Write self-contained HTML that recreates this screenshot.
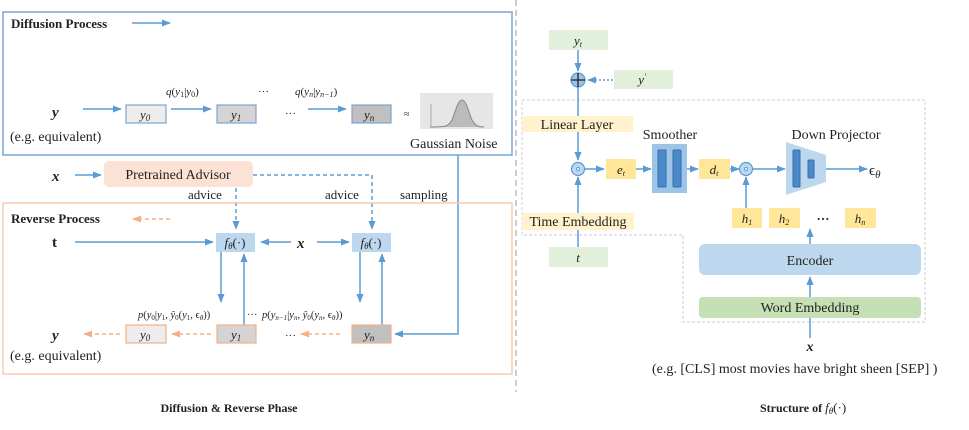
<!DOCTYPE html>
<html><head><meta charset="utf-8"><style>
html,body{margin:0;padding:0;background:#fff;width:969px;height:430px;overflow:hidden}
svg{display:block}
text{font-family:"Liberation Serif",serif;fill:#222}
.it{font-style:italic}
.b{font-weight:bold}
</style></head><body>
<svg width="969" height="430" viewBox="0 0 969 430" xmlns="http://www.w3.org/2000/svg">
<defs>
<marker id="ab" viewBox="0 0 10 10" refX="9" refY="5" markerWidth="6" markerHeight="6" orient="auto"><path d="M0,1 L10,5 L0,9 z" fill="#5b9bd5"/></marker>
<marker id="ao" viewBox="0 0 10 10" refX="9" refY="5" markerWidth="6" markerHeight="6" orient="auto"><path d="M0,1 L10,5 L0,9 z" fill="#f4b183"/></marker>
</defs>
<g stroke="#5b9bd5" stroke-width="1.5" fill="none">
<!-- divider -->
<line x1="516" y1="0" x2="516" y2="392" stroke="#bbb" stroke-dasharray="6,4"/>
</g>
<!-- Diffusion box -->
<rect x="3" y="12" width="509" height="143" fill="none" stroke="#7aa6d4" stroke-width="1.5"/>
<text x="11" y="28" class="b" font-size="13">Diffusion Process</text>
<line x1="132" y1="23" x2="170" y2="23" stroke="#5b9bd5" stroke-width="1.5" marker-end="url(#ab)"/>
<text x="52" y="117" class="it b" font-size="15">y</text>
<text x="10" y="141" font-size="14">(e.g. equivalent)</text>
<g stroke="#5b9bd5" stroke-width="1.5" marker-end="url(#ab)">
<line x1="83" y1="109" x2="121" y2="109"/>
<line x1="171" y1="109" x2="211" y2="109"/>
<line x1="308" y1="109" x2="346" y2="109"/>
</g>
<rect x="126" y="105" width="40" height="18" fill="#ededed" stroke="#7aa6d4" stroke-width="1.2"/>
<rect x="217" y="105" width="39" height="18" fill="#d4d4d4" stroke="#7aa6d4" stroke-width="1.2"/>
<rect x="352" y="105" width="39" height="18" fill="#c0c0c0" stroke="#7aa6d4" stroke-width="1.2"/>
<text x="140" y="119" class="it" font-size="13">y<tspan font-size="9" dy="2">0</tspan></text>
<text x="231" y="119" class="it" font-size="13">y<tspan font-size="9" dy="2">1</tspan></text>
<text x="364" y="119" class="it" font-size="13">y<tspan font-size="9" dy="2">n</tspan></text>
<text x="166" y="95" font-size="11"><tspan class="it">q</tspan>(<tspan class="it">y</tspan><tspan font-size="8" dy="2">1</tspan><tspan dy="-2">|</tspan><tspan class="it">y</tspan><tspan font-size="8" dy="2">0</tspan><tspan dy="-2">)</tspan></text>
<text x="258" y="95" font-size="11">···</text>
<text x="295" y="95" font-size="11"><tspan class="it">q</tspan>(<tspan class="it">y</tspan><tspan font-size="8" dy="2" class="it">n</tspan><tspan dy="-2">|</tspan><tspan class="it">y</tspan><tspan font-size="8" dy="2" class="it">n−1</tspan><tspan dy="-2">)</tspan></text>
<text x="285" y="117" font-size="11">···</text>
<text x="404" y="117" font-size="10" fill="#777">≈</text>
<rect x="420" y="93" width="73" height="36" fill="#e6e6e6"/>
<path d="M430,127 C445,127 448,127 452,120 C456,110 458,100 462,100 C466,100 468,110 472,120 C476,127 480,127 484,127" fill="#bbb" stroke="#888" stroke-width="1"/>
<line x1="431" y1="104" x2="431" y2="127" stroke="#aaa"/>
<text x="410" y="148" font-size="14">Gaussian Noise</text>
<!-- advisor -->
<text x="52" y="181" class="it b" font-size="15">x</text>
<line x1="75" y1="175" x2="101" y2="175" stroke="#5b9bd5" stroke-width="1.5" marker-end="url(#ab)"/>
<rect x="104" y="161" width="149" height="26" rx="5" fill="#fbe2d5"/>
<text x="178" y="179" font-size="14" text-anchor="middle">Pretrained Advisor</text>
<g stroke="#5b9bd5" stroke-width="1.5" stroke-dasharray="4,3" fill="none">
<polyline points="253,175 372,175 372,229" marker-end="url(#ab)"/>
<line x1="236" y1="188" x2="236" y2="229" marker-end="url(#ab)"/>
</g>
<text x="188" y="199" font-size="13">advice</text>
<text x="325" y="199" font-size="13">advice</text>
<text x="400" y="199" font-size="13">sampling</text>
<polyline points="458,155 458,334 395,334" fill="none" stroke="#5b9bd5" stroke-width="1.5" marker-end="url(#ab)"/>
<!-- reverse -->
<rect x="3" y="203" width="509" height="171" fill="none" stroke="#f8cbad" stroke-width="1.5"/>
<text x="11" y="223" class="b" font-size="13">Reverse Process</text>
<line x1="170" y1="219" x2="133" y2="219" stroke="#f4b183" stroke-width="1.5" stroke-dasharray="4,3" marker-end="url(#ao)"/>
<text x="52" y="247" class="b" font-size="15">t</text>
<g stroke="#5b9bd5" stroke-width="1.5" marker-end="url(#ab)">
<line x1="75" y1="242" x2="213" y2="242"/>
<line x1="291" y1="242" x2="261" y2="242"/>
<line x1="317" y1="242" x2="349" y2="242"/>
<line x1="221" y1="252" x2="221" y2="302"/>
<line x1="244" y1="325" x2="244" y2="254"/>
<line x1="360" y1="252" x2="360" y2="302"/>
<line x1="382" y1="325" x2="382" y2="254"/>
</g>
<rect x="216" y="233" width="39" height="19" fill="#bdd7ee"/>
<rect x="352" y="233" width="39" height="19" fill="#bdd7ee"/>
<text x="235" y="247" font-size="13" text-anchor="middle"><tspan class="it">f<tspan font-size="9" dy="2">θ</tspan></tspan><tspan dy="-2">(·)</tspan></text>
<text x="371" y="247" font-size="13" text-anchor="middle"><tspan class="it">f<tspan font-size="9" dy="2">θ</tspan></tspan><tspan dy="-2">(·)</tspan></text>
<text x="297" y="248" class="it b" font-size="15">x</text>
<text x="138" y="318" font-size="10.5"><tspan class="it">p</tspan>(<tspan class="it">y</tspan><tspan font-size="7" dy="2">0</tspan><tspan dy="-2">|</tspan><tspan class="it">y</tspan><tspan font-size="7" dy="2">1</tspan><tspan dy="-2">, </tspan><tspan class="it">ŷ</tspan><tspan font-size="7" dy="2">0</tspan><tspan dy="-2">(</tspan><tspan class="it">y</tspan><tspan font-size="7" dy="2">1</tspan><tspan dy="-2">, ϵ</tspan><tspan font-size="7" dy="2" class="it">θ</tspan><tspan dy="-2">))</tspan></text>
<text x="247" y="318" font-size="10.5">···</text>
<text x="262" y="318" font-size="10.5"><tspan class="it">p</tspan>(<tspan class="it">y</tspan><tspan font-size="7" dy="2" class="it">n−1</tspan><tspan dy="-2">|</tspan><tspan class="it">y</tspan><tspan font-size="7" dy="2" class="it">n</tspan><tspan dy="-2">, </tspan><tspan class="it">ŷ</tspan><tspan font-size="7" dy="2">0</tspan><tspan dy="-2">(</tspan><tspan class="it">y</tspan><tspan font-size="7" dy="2" class="it">n</tspan><tspan dy="-2">, ϵ</tspan><tspan font-size="7" dy="2" class="it">θ</tspan><tspan dy="-2">))</tspan></text>
<text x="52" y="340" class="it b" font-size="15">y</text>
<text x="10" y="360" font-size="14">(e.g. equivalent)</text>
<g stroke="#f4b183" stroke-width="1.5" stroke-dasharray="4,3" marker-end="url(#ao)">
<line x1="120" y1="334" x2="84" y2="334"/>
<line x1="211" y1="334" x2="172" y2="334"/>
<line x1="340" y1="334" x2="301" y2="334"/>
</g>
<text x="285" y="339" font-size="11">···</text>
<rect x="126" y="325" width="40" height="18" fill="#ededed" stroke="#f4b183" stroke-width="1.2"/>
<rect x="217" y="325" width="39" height="18" fill="#d4d4d4" stroke="#f4b183" stroke-width="1.2"/>
<rect x="352" y="325" width="39" height="18" fill="#c0c0c0" stroke="#f4b183" stroke-width="1.2"/>
<text x="140" y="339" class="it" font-size="13">y<tspan font-size="9" dy="2">0</tspan></text>
<text x="231" y="339" class="it" font-size="13">y<tspan font-size="9" dy="2">1</tspan></text>
<text x="364" y="339" class="it" font-size="13">y<tspan font-size="9" dy="2">n</tspan></text>
<text x="229" y="412" class="b" font-size="12" text-anchor="middle">Diffusion &amp; Reverse Phase</text>
<!-- right -->
<path d="M522,235 L522,100 L925,100 L925,322 L683,322 L683,235 Z" fill="none" stroke="#ccc" stroke-dasharray="3,2"/>
<rect x="549" y="30" width="59" height="20" fill="#e2efda"/>
<text x="578" y="45" class="it" font-size="13" text-anchor="middle">y<tspan font-size="8" dy="2">t</tspan></text>
<rect x="614" y="70" width="59" height="19" fill="#e2efda"/>
<text x="642" y="84" class="it" font-size="13" text-anchor="middle">y<tspan font-size="8" dy="-5">'</tspan></text>
<g stroke="#5b9bd5" stroke-width="1.5" fill="none">
<line x1="578" y1="50" x2="578" y2="71" marker-end="url(#ab)"/>
<line x1="613" y1="80" x2="588" y2="80" stroke-dasharray="2,2" marker-end="url(#ab)"/>
<line x1="578" y1="87" x2="578" y2="160" marker-end="url(#ab)"/>
<line x1="578" y1="247" x2="578" y2="177" marker-end="url(#ab)"/>
<line x1="585" y1="169" x2="604" y2="169" marker-end="url(#ab)"/>
<line x1="636" y1="169" x2="651" y2="169" marker-end="url(#ab)"/>
<line x1="687" y1="169" x2="698" y2="169" marker-end="url(#ab)"/>
<line x1="730" y1="169" x2="739" y2="169" marker-end="url(#ab)"/>
<line x1="753" y1="169" x2="785" y2="169" marker-end="url(#ab)"/>
<line x1="826" y1="169" x2="867" y2="169" marker-end="url(#ab)"/>
<line x1="746" y1="208" x2="746" y2="177" marker-end="url(#ab)"/>
<line x1="810" y1="244" x2="810" y2="229" marker-end="url(#ab)"/>
<line x1="810" y1="297" x2="810" y2="277" marker-end="url(#ab)"/>
<line x1="810" y1="338" x2="810" y2="318"/>
</g>
<circle cx="578" cy="80" r="7" fill="#9dc3e6" stroke="#5b9bd5" stroke-width="1.2"/>
<path d="M571,80 H585 M578,73 V87" stroke="#222" stroke-width="1.3"/>
<rect x="522" y="116" width="111" height="16" fill="#fff2cc"/>
<text x="577" y="129" font-size="14" text-anchor="middle">Linear Layer</text>
<rect x="522" y="213" width="112" height="17" fill="#fff2cc"/>
<text x="578" y="226" font-size="14" text-anchor="middle">Time Embedding</text>
<rect x="549" y="247" width="59" height="20" fill="#e2efda"/>
<text x="578" y="262" class="it" font-size="13" text-anchor="middle">t</text>
<circle cx="578" cy="169" r="6.5" fill="#bdd7ee" stroke="#5b9bd5" stroke-width="1.2"/>
<circle cx="578" cy="169" r="1.5" fill="#fff" stroke="#5b9bd5"/>
<circle cx="746" cy="169" r="6.5" fill="#bdd7ee" stroke="#5b9bd5" stroke-width="1.2"/>
<circle cx="746" cy="169" r="1.5" fill="#fff" stroke="#5b9bd5"/>
<rect x="606" y="159" width="30" height="20" fill="#ffe699"/>
<text x="621" y="174" class="it" font-size="13" text-anchor="middle">e<tspan font-size="8" dy="2">t</tspan></text>
<rect x="652" y="144" width="35" height="49" fill="#9dc3e6"/>
<rect x="658" y="150" width="8" height="37" rx="1" fill="#4a8acb" stroke="#3a6fa8"/>
<rect x="673" y="150" width="8" height="37" rx="1" fill="#4a8acb" stroke="#3a6fa8"/>
<text x="670" y="139" font-size="14" text-anchor="middle">Smoother</text>
<rect x="699" y="159" width="31" height="20" fill="#ffe699"/>
<text x="714" y="174" class="it" font-size="13" text-anchor="middle">d<tspan font-size="8" dy="2">t</tspan></text>
<polygon points="786,142 826,155 826,182 786,195" fill="#bdd7ee"/>
<rect x="793" y="150" width="7" height="37" rx="1" fill="#4a8acb" stroke="#3a6fa8"/>
<rect x="808" y="160" width="6" height="18" rx="1" fill="#4a8acb" stroke="#3a6fa8"/>
<text x="836" y="139" font-size="14" text-anchor="middle">Down Projector</text>
<text x="869" y="175" font-size="15">ϵ<tspan class="it" font-size="11" dy="3">θ</tspan></text>
<rect x="732" y="208" width="30" height="20" fill="#ffe699"/>
<rect x="769" y="208" width="31" height="20" fill="#ffe699"/>
<rect x="845" y="208" width="31" height="20" fill="#ffe699"/>
<text x="747" y="223" class="it" font-size="13" text-anchor="middle">h<tspan font-size="8" dy="2">1</tspan></text>
<text x="784" y="223" class="it" font-size="13" text-anchor="middle">h<tspan font-size="8" dy="2">2</tspan></text>
<text x="860" y="223" class="it" font-size="13" text-anchor="middle">h<tspan font-size="8" dy="2">n</tspan></text>
<text x="823" y="223" class="b" font-size="13" text-anchor="middle">···</text>
<rect x="699" y="244" width="222" height="31" rx="6" fill="#bdd7ee"/>
<text x="810" y="265" font-size="14" text-anchor="middle">Encoder</text>
<rect x="699" y="297" width="222" height="21" rx="4" fill="#c5e0b4"/>
<text x="810" y="312" font-size="14" text-anchor="middle">Word Embedding</text>
<text x="810" y="351" class="it b" font-size="14" text-anchor="middle">x</text>
<text x="652" y="373" font-size="14">(e.g. [CLS] most movies have bright sheen [SEP] )</text>
<text x="760" y="412" class="b" font-size="12">Structure of <tspan class="it" font-weight="normal" font-size="13">f<tspan font-size="9" dy="2">θ</tspan></tspan><tspan font-weight="normal" font-size="13" dy="-2">(·)</tspan></text>
</svg>
</body></html>
